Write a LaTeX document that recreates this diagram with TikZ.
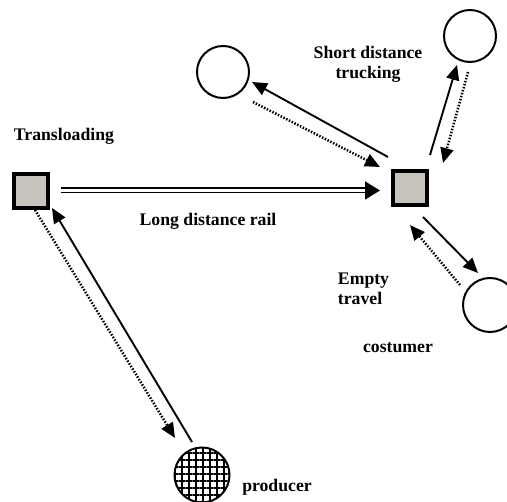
\documentclass[tikz,border=0pt]{standalone}
\usepackage{fontspec}
\setmainfont{Liberation Serif}
\usepackage{xcolor}
\usetikzlibrary{arrows.meta, patterns.meta}
\definecolor{boxgray}{RGB}{199,196,189}

\begin{document}
\begin{tikzpicture}[>={Triangle[length=15pt,width=13pt]}, x=1pt, y=1pt,
                    line width=1.9pt, font=\fontsize{17.7}{20}\selectfont\bfseries]
\tikzstyle{terminal}=[shape=rectangle, draw=black, fill=boxgray,
                    line width=4pt, inner sep=0pt, minimum size=34pt]
\tikzstyle{place}=[shape=circle, draw=black, line width=2pt,
                    inner sep=0pt, minimum size=52pt]
\tikzstyle{ret}=[->, line width=2.5pt, dash pattern=on 1.5pt off 1.6pt]
\tikzstyle{txt}=[inner sep=0pt]
  \useasboundingbox (0,0) rectangle (507,502);
  \node[terminal] (T) at (31,311) {};
  \node[terminal] (D) at (410,314) {};
  \node[place] (c1) at (223,430) {};
  \node[place] (c2) at (470,466) {};
  \node[place, minimum size=54pt] (c3) at (490,197) {};
  \node[place, minimum size=55pt,
        pattern={Hatch[angle=0,distance=7pt,line width=1.5pt]}] (P) at (202,27) {};
  %
  \node[txt, anchor=base west] (tl) at (13,361) {Transloading};
  \node[txt, anchor=base] (ldr) at (208,276) {Long distance rail};
  \node[txt, align=center, anchor=north] (sdt) at (368,457) {Short distance\\trucking};
  \node[txt, align=left, anchor=north west] (et) at (337,230) {Empty\\travel};
  \node[txt, anchor=base] (cu) at (398,149) {costumer};
  \node[txt, anchor=base] (pr) at (277,10) {producer};
  %
  \draw[double, double distance=2.8pt, line width=1.6pt,
        -{Triangle[length=15pt,width=18pt]}]
        ([shift={(30,0.5)}]T.center) -- ([shift={(-30,-2.5)}]D.center);
  %
  \draw[->]  ([shift={(-22,31)}]D.center) -- ([shift={(29,-10)}]c1.center);
  \draw[ret] ([shift={(30,-30)}]c1.center) -- ([shift={(-30,21)}]D.center);
  %
  \draw[->]  ([shift={(20,33)}]D.center) -- ([shift={(-13,-29)}]c2.center);
  \draw[ret] ([shift={(-2,-36)}]c2.center) -- ([shift={(33,25)}]D.center);
  %
  \draw[->]  ([shift={(13,-29)}]D.center) -- ([shift={(-12,32)}]c3.center);
  \draw[ret] ([shift={(-30,20)}]c3.center) -- ([shift={(0,-37)}]D.center);
  %
  \draw[->]  ([shift={(-10,33)}]P.center) -- ([shift={(21,-17)}]T.center);
  \draw[ret] ([shift={(4,-19)}]T.center) -- ([shift={(-27,37)}]P.center);
\end{tikzpicture}
\end{document}
